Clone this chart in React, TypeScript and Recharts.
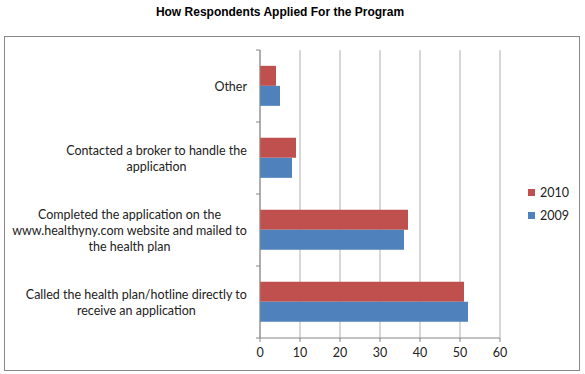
import React from "react";
import { BarChart, Bar, XAxis, YAxis, CartesianGrid } from "recharts";

const categories = [
  "Other",
  "Contacted a broker to handle the\napplication",
  "Completed the application on the\nwww.healthyny.com website and mailed to\nthe health plan",
  "Called the health plan/hotline directly to\nreceive an application",
];
const values2010 = [4, 9, 37, 51];
const values2009 = [5, 8, 36, 52];
const xTicks = [0, 10, 20, 30, 40, 50, 60];

const series = [
  { key: "y2010", name: "2010", color: "#C0504D" },
  { key: "y2009", name: "2009", color: "#4F81BD" },
];

const data = categories.map((name, i) => ({
  name,
  y2010: values2010[i],
  y2009: values2009[i],
}));

const W = 585;
const H = 374;
const MARGIN = { top: 50, right: 85, bottom: 0, left: 5 };
const X_AXIS_H = 36;
const Y_AXIS_W = 255;
const FONT_SIZE = 12.5;
const LABEL_FONT = `${FONT_SIZE}px Lato`;
const BAND = (H - MARGIN.top - MARGIN.bottom - X_AXIS_H) / categories.length;

let canvas: HTMLCanvasElement | null = null;
const measure = (s: string) => {
  if (!canvas) canvas = document.createElement("canvas");
  const ctx = canvas.getContext("2d")!;
  ctx.font = LABEL_FONT;
  return ctx.measureText(s).width;
};

const CategoryTick = (props: any) => {
  const { x, y, payload, index } = props;
  const lines: string[] = String(payload.value).split("\n");
  const maxW = Math.max(...lines.map(measure));
  const cx = x - maxW / 2;
  const lh = 16;
  const y0 = y - ((lines.length - 1) * lh) / 2;
  const axisX = x + 13;
  return (
    <g>
      <line x1={axisX - 4} x2={axisX} y1={y - BAND / 2} y2={y - BAND / 2} stroke="#868686" />
      {index === categories.length - 1 && (
        <line x1={axisX - 4} x2={axisX} y1={y + BAND / 2} y2={y + BAND / 2} stroke="#868686" />
      )}
      <text
        x={cx}
        y={y0}
        textAnchor="middle"
        dominantBaseline="central"
        fontFamily="Lato"
        fontSize={FONT_SIZE}
        fill="#222"
      >
        {lines.map((l, i) => (
          <tspan key={i} x={cx} y={y0 + i * lh}>
            {l}
          </tspan>
        ))}
      </text>
    </g>
  );
};

const App = () => {
  return (
    <div style={{ position: "absolute", left: 0, top: 0, width: W, height: H, background: "#fff" }}>
      <div
        style={{
          position: "absolute",
          left: 0,
          top: 5,
          width: 560,
          textAlign: "center",
          fontFamily: "Liberation Sans",
          fontWeight: "bold",
          fontSize: 12,
          lineHeight: "14px",
          color: "#000",
        }}
      >
        How Respondents Applied For the Program
      </div>
      <div
        style={{
          position: "absolute",
          left: 4,
          top: 36,
          width: 576,
          height: 335,
          border: "1px solid #888",
          boxSizing: "border-box",
        }}
      />
      <div style={{ position: "absolute", left: 0, top: 0 }}>
        <BarChart
          width={W}
          height={H}
          data={data}
          layout="vertical"
          margin={MARGIN}
          barCategoryGap="22%"
          barGap={0}
        >
          <CartesianGrid horizontal={false} stroke="#b0b0b0" />
          <XAxis
            type="number"
            domain={[0, 60]}
            ticks={xTicks}
            height={X_AXIS_H}
            tickSize={4}
            tickMargin={6}
            stroke="#868686"
            tick={{ fontFamily: "Lato", fontSize: FONT_SIZE, fill: "#222" }}
          />
          <YAxis
            type="category"
            dataKey="name"
            width={Y_AXIS_W}
            tickSize={0}
            tickMargin={13}
            tickLine={false}
            stroke="#868686"
            tick={<CategoryTick />}
            interval={0}
          />
          {series.map((s) => (
            <Bar key={s.key} dataKey={s.key} name={s.name} fill={s.color} isAnimationActive={false} />
          ))}
        </BarChart>
      </div>
      <div style={{ position: "absolute", left: 528, top: 181 }}>
        {series.map((s) => (
          <div
            key={s.key}
            style={{
              display: "flex",
              alignItems: "center",
              height: 23,
              fontFamily: "Lato",
              fontSize: FONT_SIZE,
              color: "#222",
            }}
          >
            <div style={{ width: 7, height: 7, background: s.color, marginRight: 5 }} />
            <span>{s.name}</span>
          </div>
        ))}
      </div>
    </div>
  );
};

export default App;
